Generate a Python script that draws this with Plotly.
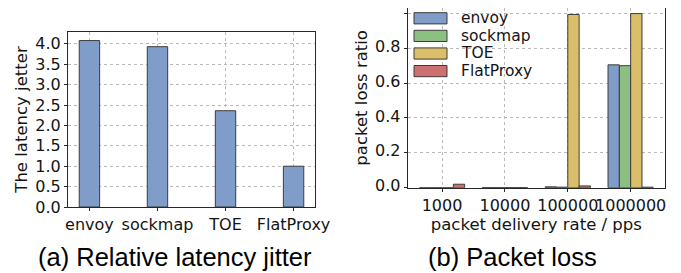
import plotly.graph_objects as go

# ---- data ----
jitter_categories = ["envoy", "sockmap", "TOE", "FlatProxy"]
jitter_values = [4.08, 3.93, 2.36, 1.0]

rate_labels = ["1000", "10000", "100000", "1000000"]
series_names = ["envoy", "sockmap", "TOE", "FlatProxy"]
loss_envoy = [0.0, 0.001, 0.005, 0.705]
loss_sockmap = [0.0, 0.001, 0.003, 0.700]
loss_toe = [0.0, 0.001, 0.994, 0.999]
loss_flatproxy = [0.02, 0.001, 0.01, 0.003]
loss_series = [loss_envoy, loss_sockmap, loss_toe, loss_flatproxy]

y1_ticks = [0.0, 0.5, 1.0, 1.5, 2.0, 2.5, 3.0, 3.5, 4.0]
y2_ticks = [0.0, 0.2, 0.4, 0.6, 0.8, 1.0]

# ---- styles ----
colors = ["rgb(128,157,202)", "rgb(140,192,130)", "rgb(218,190,105)", "rgb(204,112,112)"]
edge = "rgb(60,60,60)"
W, H = 681, 273
OFF = 8  # page body margin offset
tick_font = dict(family="DejaVu Sans", size=16, color="rgb(20,20,20)")
title_font = dict(family="DejaVu Sans", size=16.5, color="rgb(20,20,20)")

fig = go.Figure()

fig.add_trace(go.Bar(
    x=list(range(len(jitter_categories))), y=jitter_values, width=0.3,
    marker=dict(color=colors[0], line=dict(color=edge, width=1)),
    xaxis="x", yaxis="y", showlegend=False))

bw = 0.18
for i, (name, vals) in enumerate(zip(series_names, loss_series)):
    fig.add_trace(go.Bar(
        x=list(range(len(rate_labels))), y=vals, width=bw, offset=-2 * bw + i * bw,
        name=name, marker=dict(color=colors[i], line=dict(color=edge, width=1)),
        xaxis="x2", yaxis="y2", showlegend=False))


def px(x):
    return (x - OFF) / W


def py(y):
    return min(1.0, max(0.0, 1 - (y - OFF) / H))


# right panel: top edge limited by page offset; keep the same value scale
r2_top_px = max(4.7, OFF)
r2_range_top = 1.05 * (187.7 - r2_top_px) / (187.7 - 4.7)

axis_common = dict(showline=True, mirror=True, linecolor="rgb(40,40,40)", linewidth=1,
                   showgrid=True, gridcolor="rgb(185,185,185)", griddash="dot", gridwidth=1,
                   ticks="outside", ticklen=3, tickcolor="rgb(40,40,40)",
                   tickfont=tick_font, zeroline=False, tickangle=0, automargin=False)

fig.update_layout(
    width=W, height=H, margin=dict(l=0, r=0, t=0, b=0, autoexpand=False),
    paper_bgcolor="white", plot_bgcolor="white", barmode="overlay",
    xaxis=dict(domain=[px(68), px(315)], range=[-0.315, 3.315],
               tickvals=list(range(4)), ticktext=jitter_categories, **axis_common),
    yaxis=dict(domain=[py(207), py(32)], range=[0, 4.29], tickvals=y1_ticks,
               ticktext=[f"{v:.1f}" for v in y1_ticks],
               title=dict(text="The latency jetter", font=title_font, standoff=3), **axis_common),
    xaxis2=dict(domain=[px(407.7), px(665)], range=[-0.546, 3.546], anchor="y2",
                tickvals=list(range(4)), ticktext=rate_labels,
                title=dict(text="packet delivery rate / pps", font=title_font, standoff=0), **axis_common),
    yaxis2=dict(domain=[py(187.7), py(r2_top_px)], range=[0, r2_range_top], anchor="x2", tickvals=y2_ticks,
                ticktext=[f"{v:.1f}" for v in y2_ticks], ticklabelshift=-2,
                title=dict(text="packet loss ratio", font=title_font, standoff=3), **axis_common),
)

# manual legend (matplotlib-style wide swatches)
centers = [18.3, 35.9, 53.5, 71.1]
for i, name in enumerate(series_names):
    cy = centers[i]
    fig.add_shape(type="rect", xref="paper", yref="paper",
                  x0=px(414), x1=px(447), y0=py(cy + 5.6), y1=py(cy - 5.6),
                  fillcolor=colors[i], line=dict(color=edge, width=1))
    fig.add_annotation(x=px(460), y=py(cy), xref="paper", yref="paper", text=name,
                       showarrow=False, xanchor="left", yanchor="middle",
                       height=16, borderpad=0, valign="middle",
                       font=dict(family="DejaVu Sans", size=15.5, color="rgb(20,20,20)"))

# captions
fig.add_annotation(x=px(175), y=py(257), xref="paper", yref="paper",
                   text="(a) Relative latency jitter", showarrow=False,
                   xanchor="center", yanchor="middle",
                   font=dict(family="Liberation Sans", size=25.5, color="black"))
fig.add_annotation(x=px(512), y=py(257), xref="paper", yref="paper",
                   text="(b) Packet loss", showarrow=False,
                   xanchor="center", yanchor="middle",
                   font=dict(family="Liberation Sans", size=25.5, color="black"))

fig.write_html("out.html")
